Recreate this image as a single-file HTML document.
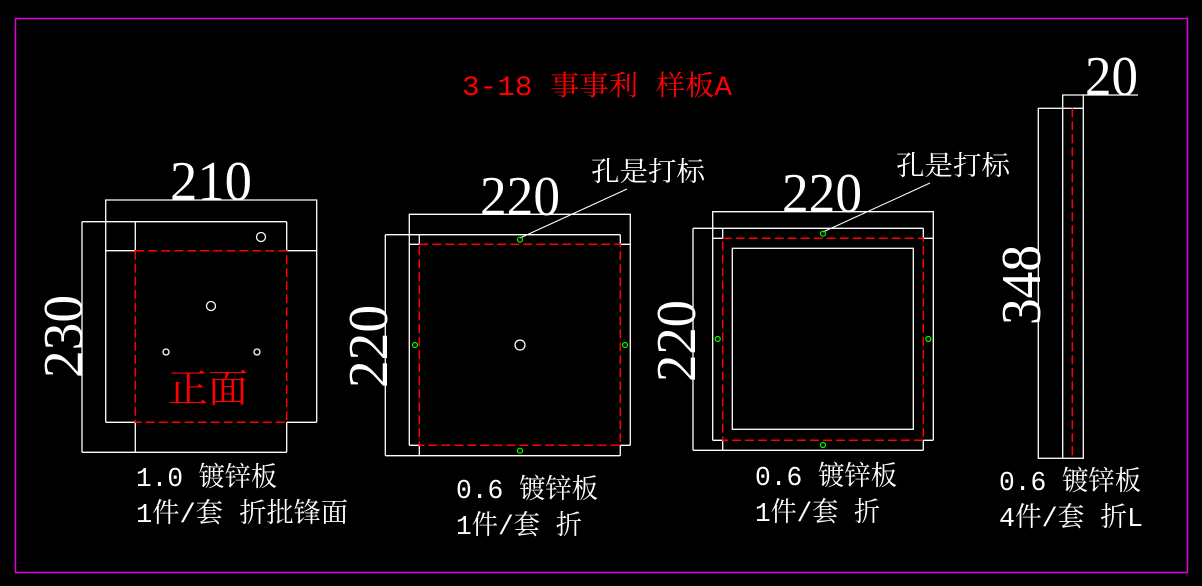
<!DOCTYPE html>
<html><head><meta charset="utf-8"><style>
html,body{margin:0;padding:0;background:#000;}
svg{display:block;}
.c{font-family:"Liberation Mono","Noto Serif CJK SC",monospace;fill:#fff;font-size:27px;}
.d{font-family:"Liberation Serif",serif;fill:#fff;font-size:56px;}
</style></head><body>
<svg width="1202" height="586" viewBox="0 0 1202 586" xmlns="http://www.w3.org/2000/svg">
<rect x="0" y="0" width="1202" height="586" fill="#000"/>
<rect x="15.5" y="18.5" width="1172" height="554" fill="none" stroke="#e000e0" stroke-width="1.5"/>
<text x="462" y="95" font-family="Liberation Mono,'Noto Serif CJK SC',monospace" font-size="28" fill="#f00" textLength="270" lengthAdjust="spacingAndGlyphs">3-18 事事利 样板A</text>

<g fill="none" stroke="#fff" stroke-width="1.3">
<!-- panel 1 -->
<path d="M105.7,422.3 V200 H316.7 V422.3"/>
<path d="M105.7,250.7 H135.3 M286.7,250.7 H316.7 M105.7,422.3 H135.3 M286.7,422.3 H316.7"/>
<path d="M82,221.7 H286.7 M82,452.3 H286.7 M82,221.7 V452.3"/>
<path d="M135.3,221.7 V250.7 M135.3,422.3 V452.3 M286.7,221.7 V250.7 M286.7,422.3 V452.3"/>
<circle cx="261" cy="237" r="4.5"/>
<circle cx="211" cy="306" r="4.5"/>
<circle cx="166" cy="352" r="3"/>
<circle cx="257" cy="352" r="3"/>
<!-- panel 2 -->
<path d="M409.3,445.3 V214.3 H630.3 V445.3"/>
<path d="M409.3,244.3 H419.3 M620.3,244.3 H630.3 M409.3,445.3 H419.3 M620.3,445.3 H630.3"/>
<path d="M385.3,234.7 H620.3 M385.3,455.7 H620.3 M385.3,234.7 V455.7"/>
<path d="M419.3,234.7 V244.3 M419.3,445.3 V455.7 M620.3,234.7 V244.3 M620.3,445.3 V455.7"/>
<circle cx="520" cy="345" r="5"/>
<line x1="520" y1="238" x2="627" y2="189" stroke-width="1"/>
<!-- panel 3 -->
<path d="M712.7,440.3 V211.7 H933.3 V440.3"/>
<path d="M712.7,238.3 H722.7 M923.3,238.3 H933.3 M712.7,440.3 H722.7 M923.3,440.3 H933.3"/>
<path d="M693,228.3 H923.3 M693,450.3 H923.3 M693,228.3 V450.3"/>
<path d="M722.7,228.3 V238.3 M722.7,440.3 V450.3 M923.3,228.3 V238.3 M923.3,440.3 V450.3"/>
<rect x="732.3" y="248.3" width="181" height="181"/>
<line x1="823" y1="232" x2="930" y2="183" stroke-width="1"/>
<!-- panel 4 -->
<rect x="1038.3" y="108.3" width="45" height="350"/>
<polyline points="1062.7,458.3 1062.7,95 1083.3,95 1083.3,108.3"/>
<line x1="1083.3" y1="95" x2="1138" y2="95"/>
</g>

<g fill="none" stroke="#f00" stroke-width="1.5" stroke-dasharray="9,4">
<rect x="135.3" y="250.7" width="151.4" height="171.6"/>
<rect x="419.3" y="244.3" width="201" height="201"/>
<rect x="722.7" y="238.3" width="200.6" height="202"/>
<line x1="1072.3" y1="108.3" x2="1072.3" y2="458.3"/>
</g>

<g fill="none" stroke="#0f0" stroke-width="1.2">
<circle cx="520" cy="239.7" r="2.5"/>
<circle cx="415" cy="345" r="2.5"/>
<circle cx="625" cy="345" r="2.5"/>
<circle cx="520" cy="450.7" r="2.5"/>
<circle cx="823" cy="233.7" r="2.5"/>
<circle cx="717.7" cy="339" r="2.5"/>
<circle cx="928.3" cy="339" r="2.5"/>
<circle cx="823" cy="445" r="2.5"/>
</g>

<text x="168" y="402" font-family="'Noto Serif CJK SC',serif" font-size="39" fill="#f00" textLength="80" lengthAdjust="spacingAndGlyphs">正面</text>

<text class="d" x="170" y="200" textLength="82" lengthAdjust="spacingAndGlyphs">210</text>
<text class="d" x="480" y="215" textLength="80" lengthAdjust="spacingAndGlyphs">220</text>
<text class="d" x="782" y="212" textLength="80" lengthAdjust="spacingAndGlyphs">220</text>
<text class="d" x="1085" y="95" textLength="53" lengthAdjust="spacingAndGlyphs">20</text>
<text class="d" transform="translate(82,378) rotate(-90)" textLength="83" lengthAdjust="spacingAndGlyphs">230</text>
<text class="d" transform="translate(387,388) rotate(-90)" textLength="83" lengthAdjust="spacingAndGlyphs">220</text>
<text class="d" transform="translate(695,382) rotate(-90)" textLength="82" lengthAdjust="spacingAndGlyphs">220</text>
<text class="d" transform="translate(1040,325) rotate(-90)" textLength="80" lengthAdjust="spacingAndGlyphs">348</text>

<text class="c" x="591" y="181" textLength="114" lengthAdjust="spacingAndGlyphs">孔是打标</text>
<text class="c" x="896" y="175" textLength="114" lengthAdjust="spacingAndGlyphs">孔是打标</text>

<text class="c" x="136" y="486" textLength="141" lengthAdjust="spacingAndGlyphs">1.0 镀锌板</text>
<text class="c" x="136" y="522" textLength="212" lengthAdjust="spacingAndGlyphs">1件/套 折批锋面</text>
<text class="c" x="456" y="498" textLength="142" lengthAdjust="spacingAndGlyphs">0.6 镀锌板</text>
<text class="c" x="456" y="534" textLength="126" lengthAdjust="spacingAndGlyphs">1件/套 折</text>
<text class="c" x="755" y="485" textLength="142" lengthAdjust="spacingAndGlyphs">0.6 镀锌板</text>
<text class="c" x="755" y="521" textLength="125" lengthAdjust="spacingAndGlyphs">1件/套 折</text>
<text class="c" x="999" y="490" textLength="142" lengthAdjust="spacingAndGlyphs">0.6 镀锌板</text>
<text class="c" x="999" y="526" textLength="144" lengthAdjust="spacingAndGlyphs">4件/套 折L</text>
</svg>
</body></html>
